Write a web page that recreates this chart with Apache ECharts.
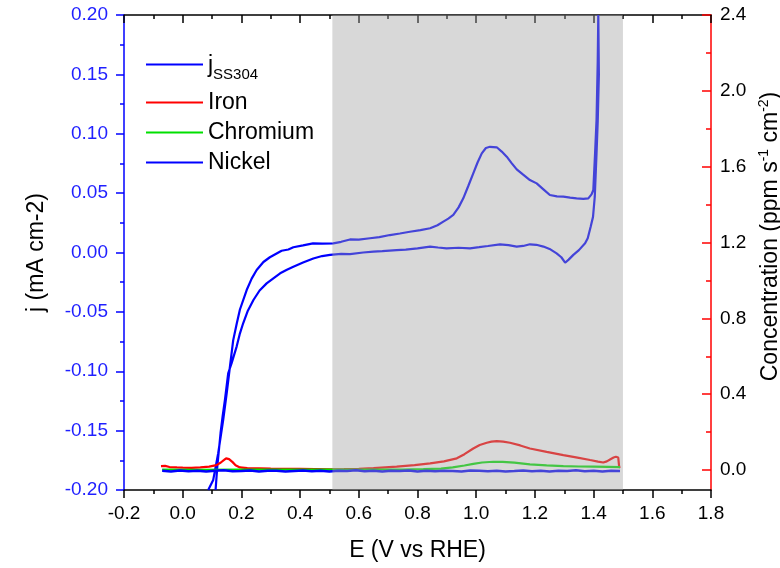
<!DOCTYPE html>
<html>
<head>
<meta charset="utf-8">
<script src="https://cdn.jsdelivr.net/npm/echarts@6/dist/echarts.min.js"></script>
<style>
  html, body { margin: 0; padding: 0; background: #ffffff; }
  #chart { width: 780px; height: 568px; }
</style>
</head>
<body>
<div id="chart"></div>
<script>
// Cyclic voltammogram of SS304: [E (V vs RHE), j (mA cm-2)]
// forward sweep, from the cathodic limit up to the anodic spike
const cvForward = [
  [0.087, -0.200], [0.104, -0.1915], [0.121, -0.169], [0.138, -0.141], [0.150, -0.1185],
  [0.161, -0.096], [0.172, -0.074], [0.184, -0.060], [0.195, -0.048], [0.218, -0.0316],
  [0.235, -0.022], [0.252, -0.0147], [0.275, -0.008], [0.297, -0.004], [0.337, 0.0015],
  [0.360, 0.0025], [0.377, 0.0044], [0.410, 0.0060], [0.444, 0.0077], [0.475, 0.0074],
  [0.513, 0.0077], [0.540, 0.0090], [0.570, 0.0110], [0.600, 0.0108], [0.638, 0.0120],
  [0.670, 0.0130], [0.706, 0.0147], [0.740, 0.0160], [0.774, 0.0175], [0.810, 0.0188],
  [0.843, 0.0204], [0.868, 0.0230], [0.888, 0.0260], [0.905, 0.0285], [0.922, 0.0316],
  [0.940, 0.0380], [0.956, 0.0456], [0.973, 0.0560], [0.990, 0.0667], [1.005, 0.0760],
  [1.019, 0.0835], [1.033, 0.0880], [1.047, 0.0890], [1.070, 0.0886], [1.087, 0.0850],
  [1.104, 0.0807], [1.120, 0.0755], [1.138, 0.0700], [1.160, 0.0655], [1.183, 0.0610],
  [1.206, 0.0582], [1.230, 0.0530], [1.251, 0.0484], [1.275, 0.0472], [1.297, 0.0470],
  [1.320, 0.0462], [1.342, 0.0456], [1.365, 0.0452], [1.382, 0.0456], [1.393, 0.0490],
  [1.399, 0.0526], [1.405, 0.0835], [1.410, 0.1115], [1.414, 0.1600], [1.416, 0.2000]
];
// reverse sweep, from the anodic spike back down to the cathodic limit
const cvReverse = [
  [1.421, 0.2000], [1.418, 0.1500], [1.414, 0.1100], [1.410, 0.0835], [1.404, 0.0470],
  [1.398, 0.0300], [1.390, 0.0217], [1.380, 0.0120], [1.371, 0.0077], [1.350, 0.0020],
  [1.331, -0.0020], [1.315, -0.0060], [1.303, -0.0086], [1.290, -0.0040], [1.274, -0.0007],
  [1.250, 0.0030], [1.229, 0.0050], [1.205, 0.0065], [1.183, 0.0069], [1.160, 0.0055],
  [1.138, 0.0050], [1.110, 0.0062], [1.081, 0.0069], [1.040, 0.0055], [1.010, 0.0045],
  [0.979, 0.0035], [0.940, 0.0040], [0.899, 0.0035], [0.870, 0.0042], [0.843, 0.0050],
  [0.800, 0.0035], [0.760, 0.0025], [0.729, 0.0020], [0.680, 0.0012], [0.650, 0.0008],
  [0.615, 0.0000], [0.570, -0.0013], [0.540, -0.0012], [0.502, -0.0020], [0.475, -0.0030],
  [0.445, -0.0050], [0.410, -0.0085], [0.377, -0.0120], [0.355, -0.0145], [0.332, -0.0175],
  [0.310, -0.0215], [0.286, -0.0260], [0.262, -0.0320], [0.241, -0.0400], [0.222, -0.0490],
  [0.206, -0.0596], [0.194, -0.0690], [0.184, -0.0790], [0.167, -0.0930], [0.155, -0.1017],
  [0.144, -0.1240], [0.136, -0.1380], [0.129, -0.1520], [0.118, -0.1800], [0.112, -0.2000]
];

// dissolved metal concentration (ppm s-1 cm-2): [E, c]
const ironData = [
  [-0.074, 0.021], [-0.068, 0.026], [-0.060, 0.022], [-0.045, 0.016], [-0.020, 0.014],
  [0.000, 0.013], [0.030, 0.012], [0.060, 0.014], [0.090, 0.018], [0.115, 0.026],
  [0.130, 0.040], [0.140, 0.052], [0.148, 0.062], [0.158, 0.058], [0.170, 0.042],
  [0.180, 0.026], [0.195, 0.014], [0.220, 0.010], [0.260, 0.009], [0.300, 0.008],
  [0.350, 0.007], [0.400, 0.006], [0.450, 0.005], [0.500, 0.004], [0.550, 0.005],
  [0.600, 0.007], [0.650, 0.010], [0.690, 0.014], [0.729, 0.018], [0.790, 0.026],
  [0.843, 0.035], [0.890, 0.046], [0.934, 0.062], [0.960, 0.084], [0.990, 0.114],
  [1.012, 0.132], [1.036, 0.144], [1.052, 0.150], [1.070, 0.153], [1.092, 0.150],
  [1.115, 0.144], [1.150, 0.130], [1.183, 0.114], [1.240, 0.096], [1.297, 0.079],
  [1.345, 0.066], [1.388, 0.053], [1.415, 0.045], [1.433, 0.040], [1.445, 0.046],
  [1.456, 0.056], [1.468, 0.066], [1.476, 0.070], [1.484, 0.066], [1.487, 0.018],
  [1.490, 0.012]
];
const chromiumData = [
  [-0.070, 0.002], [0.050, 0.001], [0.200, 0.002], [0.350, 0.002], [0.500, 0.002],
  [0.650, 0.003], [0.750, 0.003], [0.820, 0.005], [0.880, 0.008], [0.920, 0.014],
  [0.960, 0.024], [0.990, 0.033], [1.020, 0.040], [1.058, 0.044], [1.090, 0.043],
  [1.130, 0.039], [1.183, 0.030], [1.240, 0.025], [1.297, 0.021], [1.350, 0.019],
  [1.400, 0.018], [1.450, 0.017], [1.490, 0.016]
];
const nickelData = [
  [-0.07, -0.004], [-0.04, -0.007], [-0.01, -0.002], [0.02, -0.006], [0.05, -0.003],
  [0.08, -0.008], [0.11, -0.004], [0.14, -0.001], [0.17, -0.006], [0.20, -0.005],
  [0.23, -0.002], [0.26, -0.007], [0.29, -0.004], [0.32, -0.003], [0.35, -0.008],
  [0.38, -0.005], [0.41, -0.002], [0.44, -0.006], [0.47, -0.004], [0.50, -0.007],
  [0.53, -0.003], [0.56, -0.005], [0.59, -0.001], [0.62, -0.006], [0.65, -0.004],
  [0.68, -0.008], [0.71, -0.003], [0.74, -0.005], [0.77, -0.002], [0.80, -0.007],
  [0.83, -0.004], [0.86, -0.006], [0.89, -0.003], [0.92, -0.005], [0.95, -0.008],
  [0.98, -0.002], [1.01, -0.004], [1.04, -0.006], [1.07, -0.003], [1.10, -0.007],
  [1.13, -0.005], [1.16, -0.002], [1.19, -0.006], [1.22, -0.004], [1.25, -0.008],
  [1.28, -0.003], [1.31, -0.005], [1.34, -0.001], [1.37, -0.006], [1.40, -0.004],
  [1.43, -0.007], [1.46, -0.003], [1.49, -0.005]
];

// shaded potential window
const shadedWindow = [0.51, 1.5];

// axis ranges and tick positions
const xRange = [-0.2, 1.8];
const jRange = [-0.2, 0.2];
const concRange = [-0.105, 2.4];
const concMajorTicks = [0.0, 0.4, 0.8, 1.2, 1.6, 2.0, 2.4];
const concMinorTicks = [0.2, 0.6, 1.0, 1.4, 1.8, 2.2];

const FONT = '"Liberation Sans", Arial, sans-serif';
const BLUE = '#0000ff';
const RED = '#ff0000';
const GREEN = '#00e000';

const chart = echarts.init(document.getElementById('chart'), null, { renderer: 'canvas' });

chart.setOption({
  animation: false,
  backgroundColor: '#ffffff',
  textStyle: { fontFamily: FONT },
  grid: { left: 124, right: 69, top: 15, bottom: 78, outerBoundsMode: 'none', containLabel: false },
  legend: [
    {
      data: ['jSS304'],
      orient: 'vertical',
      left: 141,
      top: 49,
      icon: 'rect',
      itemWidth: 57,
      itemHeight: 2,
      selectedMode: false,
      formatter: () => '{j|j}{s|SS304}',
      textStyle: {
        fontFamily: FONT,
        color: '#000',
        padding: [12, 0, 0, 0],
        rich: {
          j: { fontSize: 23, lineHeight: 23, padding: [0, 0, 5, 0], verticalAlign: 'bottom', fontFamily: FONT, color: '#000' },
          s: { fontSize: 15, lineHeight: 15, verticalAlign: 'bottom', fontFamily: FONT, color: '#000' }
        }
      }
    },
    {
      data: ['Iron', 'Chromium', 'Nickel'],
      orient: 'vertical',
      left: 141,
      top: 86,
      icon: 'rect',
      itemWidth: 57,
      itemHeight: 2,
      itemGap: 7,
      selectedMode: false,
      textStyle: { fontFamily: FONT, fontSize: 23, lineHeight: 23, color: '#000' }
    }
  ],
  xAxis: [
    {
      type: 'value',
      position: 'bottom',
      min: xRange[0], max: xRange[1], interval: 0.2,
      name: 'E (V vs RHE)',
      nameLocation: 'middle',
      nameGap: 49,
      nameTextStyle: { fontFamily: FONT, fontSize: 23, color: '#000' },
      axisLine: { show: true, onZero: false, lineStyle: { color: '#000', width: 1.5 } },
      axisTick: { show: true, inside: false, length: 8, lineStyle: { color: '#000', width: 1.5 } },
      minorTick: { show: true, splitNumber: 2, length: 4, lineStyle: { color: '#000', width: 1.5 } },
      axisLabel: { fontFamily: FONT, fontSize: 19, color: '#000', margin: 14, formatter: v => v.toFixed(1) },
      splitLine: { show: false },
      minorSplitLine: { show: false }
    },
    {
      type: 'value',
      position: 'top',
      min: xRange[0], max: xRange[1], interval: 0.2,
      axisLine: { show: true, onZero: false, lineStyle: { color: '#000', width: 1.5 } },
      axisTick: { show: true, inside: true, length: 8, lineStyle: { color: '#000', width: 1.5 } },
      minorTick: { show: true, splitNumber: 2, length: 4, lineStyle: { color: '#000', width: 1.5 } },
      axisLabel: { show: false },
      splitLine: { show: false }
    }
  ],
  yAxis: [
    {
      type: 'value',
      position: 'left',
      min: jRange[0], max: jRange[1], interval: 0.05,
      name: 'j (mA cm-2)',
      nameLocation: 'middle',
      nameGap: 76,
      nameTextStyle: { fontFamily: FONT, fontSize: 23, color: '#000' },
      axisLine: { show: true, onZero: false, lineStyle: { color: BLUE, width: 1.5 } },
      axisTick: { show: true, inside: false, length: 8, lineStyle: { color: BLUE, width: 1.5 } },
      minorTick: { show: true, splitNumber: 2, length: 4, lineStyle: { color: BLUE, width: 1.5 } },
      axisLabel: { fontFamily: FONT, fontSize: 19, color: '#1f1fff', margin: 16, formatter: v => v.toFixed(2) },
      splitLine: { show: false },
      minorSplitLine: { show: false }
    },
    {
      type: 'value',
      position: 'right',
      min: concRange[0], max: concRange[1],
      name: '{t|Concentration (ppm s}{u|-1}{t| cm}{u|-2}{t|)}',
      nameLocation: 'middle',
      nameGap: 44,
      nameTextStyle: {
        fontFamily: FONT, fontSize: 23, color: '#000',
        padding: [0, 0, 0, 32],
        rich: {
          t: { fontFamily: FONT, fontSize: 23, color: '#000' },
          u: { fontFamily: FONT, fontSize: 14, color: '#000', padding: [0, 0, 12, 0] }
        }
      },
      axisLine: { show: true, onZero: false, lineStyle: { color: RED, width: 1.5 } },
      axisTick: { show: true, inside: true, length: 9, customValues: concMajorTicks, lineStyle: { color: RED, width: 1.5 } },
      axisLabel: { fontFamily: FONT, fontSize: 19, color: '#000', margin: 9, customValues: concMajorTicks, formatter: v => v.toFixed(1) },
      splitLine: { show: false }
    },
    {
      // minor ticks of the concentration axis
      type: 'value',
      position: 'right',
      min: concRange[0], max: concRange[1],
      axisLine: { show: false, onZero: false },
      axisTick: { show: true, inside: true, length: 5, customValues: concMinorTicks, lineStyle: { color: RED, width: 1.5 } },
      axisLabel: { show: false },
      splitLine: { show: false }
    }
  ],
  series: [
    {
      name: 'jSS304',
      type: 'line',
      xAxisIndex: 0, yAxisIndex: 0,
      data: cvForward.concat(cvReverse),
      symbol: 'none', showSymbol: false,
      color: BLUE,
      lineStyle: { color: BLUE, width: 2.2 },
      clip: true,
      z: 3
    },
    {
      name: 'Iron',
      type: 'line',
      xAxisIndex: 0, yAxisIndex: 1,
      data: ironData,
      symbol: 'none', showSymbol: false,
      color: RED,
      lineStyle: { color: RED, width: 2.2 },
      z: 4
    },
    {
      name: 'Chromium',
      type: 'line',
      xAxisIndex: 0, yAxisIndex: 1,
      data: chromiumData,
      symbol: 'none', showSymbol: false,
      color: GREEN,
      lineStyle: { color: GREEN, width: 2.2 },
      z: 5
    },
    {
      name: 'Nickel',
      type: 'line',
      xAxisIndex: 0, yAxisIndex: 1,
      data: nickelData,
      symbol: 'none', showSymbol: false,
      color: BLUE,
      lineStyle: { color: BLUE, width: 2.5 },
      z: 6
    },
    {
      // translucent grey band laid over the curves
      name: 'window',
      type: 'line',
      xAxisIndex: 0, yAxisIndex: 0,
      data: [],
      symbol: 'none',
      z: 10,
      silent: true,
      markArea: {
        silent: true,
        z: 10,
        itemStyle: { color: 'rgba(163,163,163,0.42)', borderWidth: 0 },
        label: { show: false },
        data: [[{ xAxis: shadedWindow[0] }, { xAxis: shadedWindow[1] }]]
      }
    }
  ]
});
</script>
</body>
</html>
